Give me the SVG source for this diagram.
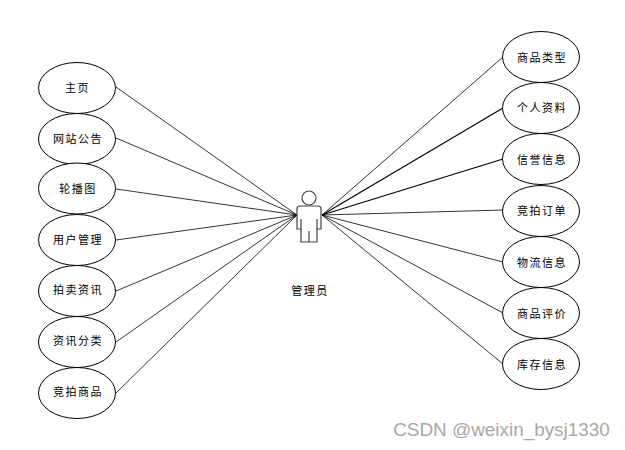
<svg xmlns="http://www.w3.org/2000/svg" width="625" height="450" viewBox="0 0 625 450">
<style>
.e{fill:#fff;stroke:#000;stroke-width:1}
.t{font-family:"Noto Sans CJK SC","Liberation Sans",sans-serif;font-size:11px;letter-spacing:1.5px;fill:#000;text-anchor:middle}
.c line{stroke:#000;stroke-width:.8}
.c line.b{stroke-width:1.2}
.a{fill:#fff;stroke:#444;stroke-width:1.2}
</style>
<rect width="625" height="450" fill="#fff"/>
<g class="c" id="connectors">
<line x1="116" y1="87" x2="297" y2="215"/>
<line x1="116" y1="138" x2="297" y2="215"/>
<line x1="116" y1="189" x2="297" y2="215"/>
<line x1="116" y1="240" x2="297" y2="215"/>
<line x1="116" y1="291" x2="297" y2="215"/>
<line x1="116" y1="342" x2="297" y2="215"/>
<line x1="116" y1="393" x2="297" y2="215"/>
<line x1="503" y1="57" x2="322" y2="215"/>
<line class="b" x1="503" y1="108" x2="322" y2="215"/>
<line class="b" x1="503" y1="159" x2="322" y2="215"/>
<line x1="503" y1="210" x2="322" y2="215"/>
<line x1="503" y1="262" x2="322" y2="215"/>
<line x1="503" y1="313" x2="322" y2="215"/>
<line x1="503" y1="364" x2="322" y2="215"/>
</g>
<g id="n1"><ellipse class="e" cx="77" cy="88" rx="38.500" ry="25.500"/><text class="t" x="77.500" y="92">主页</text></g>
<g id="n2"><ellipse class="e" cx="77" cy="139" rx="38.500" ry="25.500"/><text class="t" x="78" y="143">网站公告</text></g>
<g id="n3"><ellipse class="e" cx="77" cy="188.500" rx="38.500" ry="25.500"/><text class="t" x="78" y="193">轮播图</text></g>
<g id="n4"><ellipse class="e" cx="77" cy="240" rx="38.500" ry="25.500"/><text class="t" x="78" y="244">用户管理</text></g>
<g id="n5"><ellipse class="e" cx="77" cy="291" rx="38.500" ry="25.500"/><text class="t" x="78" y="294">拍卖资讯</text></g>
<g id="n6"><ellipse class="e" cx="77" cy="342" rx="38.500" ry="25.500"/><text class="t" x="78" y="345">资讯分类</text></g>
<g id="n7"><ellipse class="e" cx="77" cy="393" rx="38.500" ry="25.500"/><text class="t" x="78" y="396">竞拍商品</text></g>
<g id="n8"><ellipse class="e" cx="541" cy="57" rx="38.500" ry="25.500"/><text class="t" x="542" y="62">商品类型</text></g>
<g id="n9"><ellipse class="e" cx="541" cy="108" rx="38.500" ry="25.500"/><text class="t" x="542" y="112">个人资料</text></g>
<g id="n10"><ellipse class="e" cx="541" cy="159" rx="38.500" ry="25.500"/><text class="t" x="542" y="164">信誉信息</text></g>
<g id="n11"><ellipse class="e" cx="541" cy="211" rx="38.500" ry="25.500"/><text class="t" x="542" y="215">竞拍订单</text></g>
<g id="n12"><ellipse class="e" cx="541" cy="262" rx="38.500" ry="25.500"/><text class="t" x="542" y="267">物流信息</text></g>
<g id="n13"><ellipse class="e" cx="541" cy="313" rx="38.500" ry="25.500"/><text class="t" x="542" y="318">商品评价</text></g>
<g id="n14"><ellipse class="e" cx="541" cy="364" rx="38.500" ry="25.500"/><text class="t" x="542" y="369">库存信息</text></g>
<g id="actor">
<circle class="a" cx="309" cy="198" r="7"/>
<path class="a" d="M300 206H318Q321 206 321 209V229H317V242H301V229H297V209Q297 206 300 206Z"/>
<path class="a" fill="none" d="M301 219V229M317 219V229M309 231V242"/>
<text class="t" x="310" y="295">管理员</text>
</g>
<text x="501.500" y="436" font-family="Liberation Sans,sans-serif" font-size="18.900" fill="#a8a8a8" text-anchor="middle">CSDN @weixin_bysj1330</text>
</svg>
